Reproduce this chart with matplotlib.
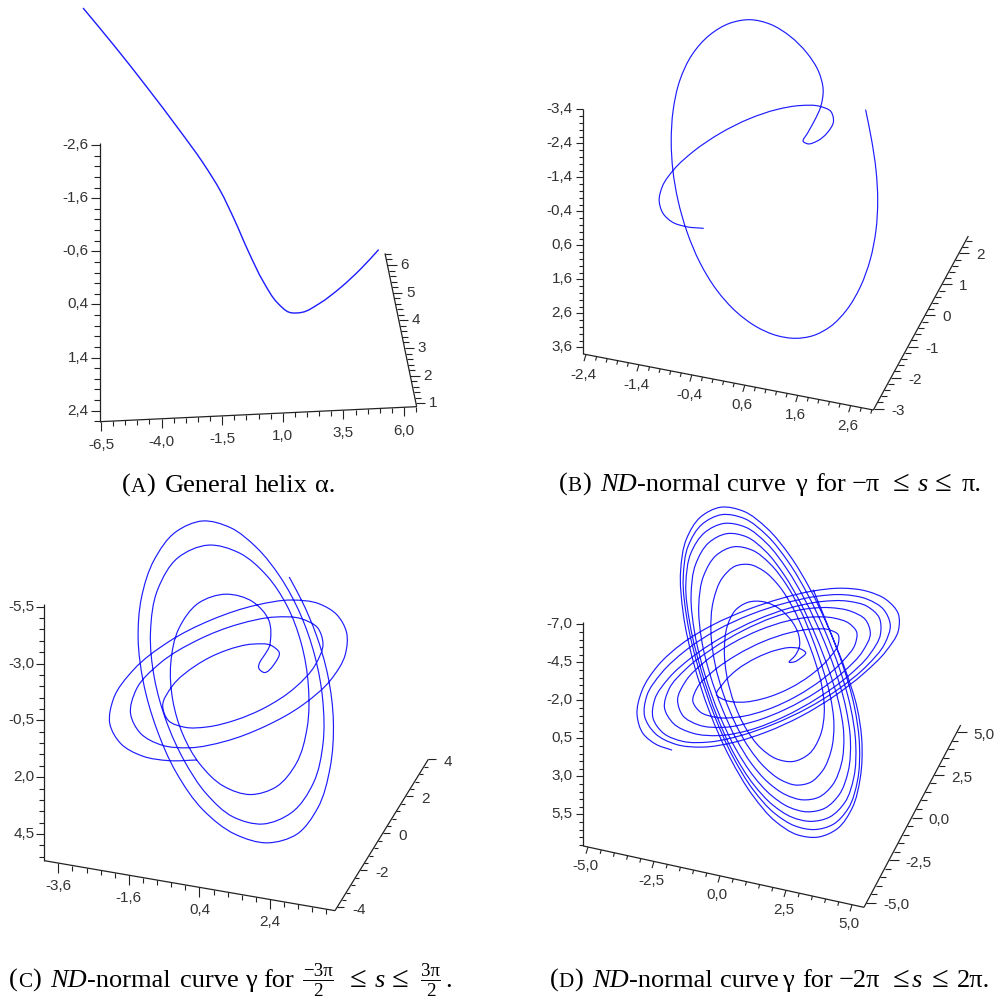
import numpy as np
import matplotlib
matplotlib.use("Agg")
import matplotlib.pyplot as plt
from matplotlib.path import Path
from matplotlib.patches import PathPatch

# curves, in 3x crop units of each panel
curve_a = [(250,25),(340,130),(440,262),(540,395),(610,490),(660,570),(700,650),(745,755),(790,850),(835,910),
           (870,932),(905,934),(950,918),(1030,855),(1085,805),(1135,750)]

curve_b = [(1097,330),(1115,420),(1128,510),(1132,600),(1128,690),(1110,780),(1080,860),(1040,930),(990,980),
           (940,1005),(885,1013),(830,1005),(770,980),(710,935),(650,870),(600,790),(560,690),(535,600),(520,510),
           (515,430),(520,330),(540,240),(575,165),(630,105),(690,72),(750,60),(810,72),(870,110),(920,160),
           (955,215),(972,270),(962,320),(940,365),(920,400),(910,425),(918,432),(945,428),(985,400),(1003,360),
           (990,335),(960,320),(900,317),(830,330),(750,355),(660,400),(580,455),(520,510),(490,560),(477,600),
           (490,640),(520,668),(555,680),(610,685)]

curve_c = [(868,232),(905,300),(945,400),(985,530),(1000,660),(990,800),(950,930),(890,1000),(810,1027),
           (700,1000),(610,930),(530,820),(470,680),(430,540),(418,420),(425,300),(460,180),(530,90),(610,65),
           (690,85),(770,145),(840,235),(900,340),(945,470),(965,600),(965,720),(945,850),(880,940),(780,970),
           (700,950),(620,880),(555,780),(500,660),(465,540),(455,400),(470,270),(530,170),(630,133),(720,160),
           (800,235),(860,320),(900,420),(925,560),(920,680),(890,790),(830,860),(750,882),(670,860),(600,790),
           (550,700),(520,600),(515,500),(535,380),(590,310),(680,280),(760,305),(810,370),(815,430),(780,510),
           (790,517),(830,490),(838,460),(815,437),(760,433),(680,450),(590,495),(515,555),(482,625),(510,660),
           (560,680),(620,680),(700,660),(800,620),(880,570),(950,490),(968,430),(950,385),(900,358),(830,353),
           (720,370),(600,420),(470,490),(410,570),(395,640),(420,700),(490,735),(570,740),(670,725),(790,680),
           (920,610),(990,540),(1035,460),(1038,400),(1010,345),(950,312),(880,302),(770,315),(640,360),(500,425),
           (400,510),(340,600),(333,670),(360,730),(430,770),(510,783),(590,780)]

curve_d = [(640,270),(690,400),(740,520),(770,620),(785,720),(780,830),(755,930),(715,985),
           (650,1008),(590,1000),(530,965),(460,890),(390,770),(330,640),(280,480),(250,340),(243,210),(260,120),(300,55),(365,20),
           (430,35),(500,85),(570,170),(630,265),(680,380),(730,500),(762,620),(778,730),(772,840),(745,930),(700,970),(640,985),
           (585,975),(525,940),(460,870),(400,770),(345,650),(295,500),(262,360),(250,230),(265,140),(305,75),(370,45),
           (430,55),(500,105),(565,190),(625,285),(670,390),(720,510),(750,620),(768,730),(760,830),(735,910),(690,950),(630,960),
           (575,950),(520,915),(460,850),(405,765),(355,660),(305,510),(270,370),(258,250),(272,160),(315,100),(375,72),
           (435,80),(500,130),(560,210),(615,300),(660,400),(705,510),(735,620),(752,720),(745,810),(715,890),(675,922),(620,933),
           (565,920),(515,885),(460,825),(410,750),(360,650),(315,520),(285,400),(275,290),(285,190),(325,130),(385,103),
           (440,110),(495,155),(550,225),(605,310),(645,410),(685,510),(715,610),(733,700),(725,790),(695,860),(655,888),(610,897),
           (555,885),(505,845),(455,790),(410,720),(370,630),(330,520),(305,420),(298,320),(310,225),(345,165),(410,143),
           (455,150),(510,195),(560,255),(605,335),(635,420),(665,500),(690,590),(703,670),(695,750),(665,815),(630,845),(590,853),
           (540,840),(495,800),(450,745),(410,680),(375,590),(345,490),(333,400),(340,300),(365,235),(410,195),(450,200),
           (490,215),(535,255),(580,320),(615,410),(645,490),(665,560),(673,630),(660,710),(630,765),(575,782),
           (530,775),(480,740),(440,690),(405,610),(380,530),(373,450),(385,370),(405,335),(445,308),(490,305),
           (540,325),(575,365),(598,410),(598,440),(585,465),(568,487),(578,490),(605,475),
           (617,458),(605,447),(575,443),(530,450),(470,472),(410,510),(365,550),(350,585),(370,600),(420,607),(490,597),(570,565),(640,520),(690,470),(714,430),(712,405),(690,392),(640,388),
           (570,397),(490,425),(410,465),(340,515),(290,565),(280,600),(300,635),(350,652),(420,650),(500,628),(590,590),(670,535),(730,480),(765,430),(770,400),(745,370),(700,355),(640,352),
           (560,362),(480,392),(400,430),(320,480),(255,545),(232,600),(250,645),(300,675),(370,682),(460,665),(560,625),(650,575),(730,515),(790,450),(812,400),(795,360),(750,335),(690,325),
           (610,328),(520,350),(430,395),(340,445),(260,505),(205,570),(195,620),(220,670),(280,700),(360,705),(450,690),(550,650),(650,595),(740,530),(810,465),(842,400),(835,355),(800,320),(745,305),
           (660,305),(570,325),(470,360),(370,410),(280,470),(205,535),(165,600),(160,650),(190,700),(250,725),(330,725),(420,705),(520,672),(620,625),(720,565),(800,495),(855,430),(870,375),(850,330),(800,297),(730,285),
           (650,290),(560,310),(450,345),(350,390),(260,450),(185,520),(140,590),(135,645),(165,700),(230,735),(310,740),(400,725),(500,695),(600,650),(700,590),(790,520),(860,450),(895,390),(893,345),(860,300),(800,273),(720,265),
           (640,275),(550,295),(440,330),(340,375),(250,430),(175,495),(125,570),(110,650),(130,700),(170,735),(215,750)]

# tick labels
a_z = ["-2,6", "-1,6", "-0,6", "0,4", "1,4", "2,4"]
a_x = ["-6,5", "-4,0", "-1,5", "1,0", "3,5", "6,0"]
a_y = ["1", "2", "3", "4", "5", "6"]
b_z = ["-3,4", "-2,4", "-1,4", "-0,4", "0,6", "1,6", "2,6", "3,6"]
b_x = ["-2,4", "-1,4", "-0,4", "0,6", "1,6", "2,6"]
b_y = ["-3", "-2", "-1", "0", "1", "2"]
c_z = ["-5,5", "-3,0", "-0,5", "2,0", "4,5"]
c_x = ["-3,6", "-1,6", "0,4", "2,4"]
c_y = ["-4", "-2", "0", "2", "4"]
d_z = ["-7,0", "-4,5", "-2,0", "0,5", "3,0", "5,5"]
d_x = ["-5,0", "-2,5", "0,0", "2,5", "5,0"]
d_y = ["-5,0", "-2,5", "0,0", "2,5", "5,0"]

BLUE = "#1c1cff"
AXC = "#222222"
TXT = "#333333"
plt.rcParams["font.family"] = "Liberation Sans"
W, H = 995, 1000
fig = plt.figure(figsize=(W / 100, H / 100), dpi=100)


def panel(px0, py0, pw, ph, x0=0):
    ax = fig.add_axes([px0 / W, 1 - (py0 + ph) / H, pw / W, ph / H])
    ax.set_xlim(x0, x0 + pw * 3)
    ax.set_ylim(ph * 3, 0)
    ax.axis("off")
    return ax


def fair(p, rounds=4):
    # takes the hand-reading wobble out, tight turns (the cusps) stay where they are
    p = p.copy()
    a = p[1:-1] - p[:-2]
    b = p[2:] - p[1:-1]
    cos = (a * b).sum(axis=1) / (np.linalg.norm(a, axis=1) * np.linalg.norm(b, axis=1))
    free = np.r_[False, cos > 0.4, False]
    for _ in range(rounds):
        for f in (0.5, -0.53):
            lap = np.zeros_like(p)
            lap[1:-1] = (p[:-2] + p[2:]) / 2 - p[1:-1]
            p[free] += f * lap[free]
    return p


def smooth(ax, pts, lw=0.85, color=BLUE):
    # spline through the traced points, tangents weighted by chord length
    p = fair(np.array(pts, float))
    d = np.linalg.norm(np.diff(p, axis=0), axis=1)
    tang = np.zeros_like(p)
    tang[0] = (p[1] - p[0]) / d[0]
    tang[-1] = (p[-1] - p[-2]) / d[-1]
    for i in range(1, len(p) - 1):
        tang[i] = ((p[i] - p[i - 1]) / d[i - 1] * d[i] + (p[i + 1] - p[i]) / d[i] * d[i - 1]) / (d[i - 1] + d[i])
    verts = [tuple(p[0])]
    codes = [Path.MOVETO]
    for i in range(len(p) - 1):
        verts += [tuple(p[i] + tang[i] * d[i] / 3), tuple(p[i + 1] - tang[i + 1] * d[i] / 3), tuple(p[i + 1])]
        codes += [Path.CURVE4] * 3
    ax.add_patch(PathPatch(Path(verts, codes), fill=False, ec=color, lw=lw, capstyle="round"))


def draw_axis(ax, p0, p1, key, first, last, labels, major, minor, lab, ha="center"):
    p0 = np.array(p0, float)
    p1 = np.array(p1, float)
    ax.plot([p0[0], p1[0]], [p0[1], p1[1]], color=AXC, lw=0.9, solid_capstyle="butt")
    i = 0 if key == "x" else 1
    t0 = (first - p0[i]) / (p1[i] - p0[i])
    t1 = (last - p0[i]) / (p1[i] - p0[i])
    step = (t1 - t0) / (len(labels) - 1) / 5
    kmin = int(np.ceil(-t0 / step - 1e-6)) if step > 0 else int(np.ceil((1 - t0) / step - 1e-6))
    kmax = int(np.floor((1 - t0) / step + 1e-6)) if step > 0 else int(np.floor(-t0 / step + 1e-6))
    for k in range(kmin, kmax + 1):
        pt = p0 + (p1 - p0) * (t0 + k * step)
        is_major = k % 5 == 0
        d = major if is_major else minor
        ax.plot([pt[0], pt[0] + d[0]], [pt[1], pt[1] + d[1]], color=AXC, lw=0.8, solid_capstyle="butt")
        if is_major and 0 <= k // 5 < len(labels):
            ax.text(pt[0] + lab[0], pt[1] + lab[1], labels[k // 5], ha=ha, va="center",
                    fontsize=11, color=TXT)


def caption(y, items, size=19):
    # items: (start x in pixels or None to follow on, text, style)
    fig.canvas.draw()
    r = fig.canvas.get_renderer()
    x = 0
    for start, text, style in items:
        if start is not None:
            x = start
        if style == "frac":
            top, bot = text
            t1 = fig.text(x / W, 1 - (y - 11) / H, top, family="Liberation Serif", fontsize=size * 0.72,
                          va="baseline", ha="left", color="black")
            w = t1.get_window_extent(r).width
            fig.text((x + w / 2) / W, 1 - (y + 9) / H, bot, family="Liberation Serif", fontsize=size * 0.72,
                     va="baseline", ha="center", color="black")
            fig.add_artist(plt.Line2D([x / W, (x + w) / W], [1 - (y - 7) / H] * 2, color="black", lw=0.7))
            x += w
            continue
        kw = dict(family="Liberation Serif", fontsize=size, va="baseline", ha="left", color="black")
        if style == "i":
            kw["style"] = "italic"
        if style == "sc":
            kw["fontsize"] = size * 0.8
        if style == "rel":
            kw["fontsize"] = size * 1.15
        t = fig.text(x / W, 1 - y / H, text, **kw)
        x += t.get_window_extent(r).width


ax_a = panel(0, 0, 500, 500)
smooth(ax_a, curve_a, lw=1.0)
draw_axis(ax_a, (300, 428), (300, 1265), "y", 435, 1232, a_z, (-28, 0), (-18, 0), (-34, 0), "right")
draw_axis(ax_a, (300, 1265), (1250, 1220), "x", 303, 1212, a_x, (0, 27), (0, 15), (0, 70))
draw_axis(ax_a, (1250, 1220), (1155, 760), "y", 1210, 795, a_y, (28, 0), (18, 0), (52, 0))

ax_b = panel(500, 0, 495, 500)
smooth(ax_b, curve_b)
draw_axis(ax_b, (250, 328), (250, 1062), "y", 328, 1042, b_z, (-22, 0), (-13, 0), (-32, 0), "right")
draw_axis(ax_b, (250, 1062), (1120, 1230), "x", 258, 1052, b_x, (-6, 20), (-3, 12), (-8, 60))
draw_axis(ax_b, (1120, 1230), (1405, 708), "y", 1226, 760, b_y, (30, 0), (18, 0), (52, 6), "left")

ax_c = panel(0, 500, 500, 500)
smooth(ax_c, curve_c)
draw_axis(ax_c, (133, 313), (133, 1082), "y", 320, 1002, c_z, (-25, 0), (-15, 0), (-30, 0), "right")
draw_axis(ax_c, (133, 1082), (1005, 1232), "x", 175, 810, c_x, (0, 30), (0, 15), (0, 69))
draw_axis(ax_c, (1005, 1232), (1285, 778), "y", 1222, 778, c_y, (22, 0), (12, 0), (46, 8), "left")

ax_d = panel(500, 500, 495, 500, x0=-300)
smooth(ax_d, curve_d)
draw_axis(ax_d, (-50, 365), (-50, 1038), "y", 373, 943, d_z, (-22, 0), (-12, 0), (-32, 0), "right")
draw_axis(ax_d, (-50, 1038), (792, 1222), "x", -36, 756, d_x, (-6, 20), (-3, 12), (-8, 58))
draw_axis(ax_d, (792, 1222), (1082, 675), "y", 1208, 697, d_y, (30, 0), (18, 0), (50, 8), "left")

caption(492, [(122, "(", "r"), (None, "A", "sc"), (None, ")", "r"), (165, "General", "r"), (255, "helix", "r"),
              (315, "α.", "r")])
caption(491, [(559, "(", "r"), (None, "B", "sc"), (None, ")", "r"), (600, "ND", "i"), (None, "-normal", "r"),
              (727, "curve", "r"), (795, "γ", "r"), (815, "for", "r"), (852, "−π", "r"), (893, "≤", "rel"),
              (918, "s", "i"), (935, "≤", "rel"), (962, "π.", "r")])
caption(987, [(9, "(", "r"), (None, "C", "sc"), (None, ")", "r"), (50, "ND", "i"), (None, "-normal", "r"),
              (180, "curve", "r"), (245, "γ", "r"), (263, "for", "r"), (303, ("−3π", "2"), "frac"), (350, "≤", "rel"),
              (375, "s", "i"), (392, "≤", "rel"), (421, ("3π", "2"), "frac"), (445, ".", "r")])
caption(987, [(550, "(", "r"), (None, "D", "sc"), (None, ")", "r"), (592, "ND", "i"), (None, "-normal", "r"),
              (720, "curve", "r"), (782, "γ", "r"), (802, "for", "r"), (839, "−2π", "r"), (893, "≤", "rel"),
              (912, "s", "i"), (932, "≤", "rel"), (957, "2π.", "r")])

fig.savefig("out.png", dpi=100)
